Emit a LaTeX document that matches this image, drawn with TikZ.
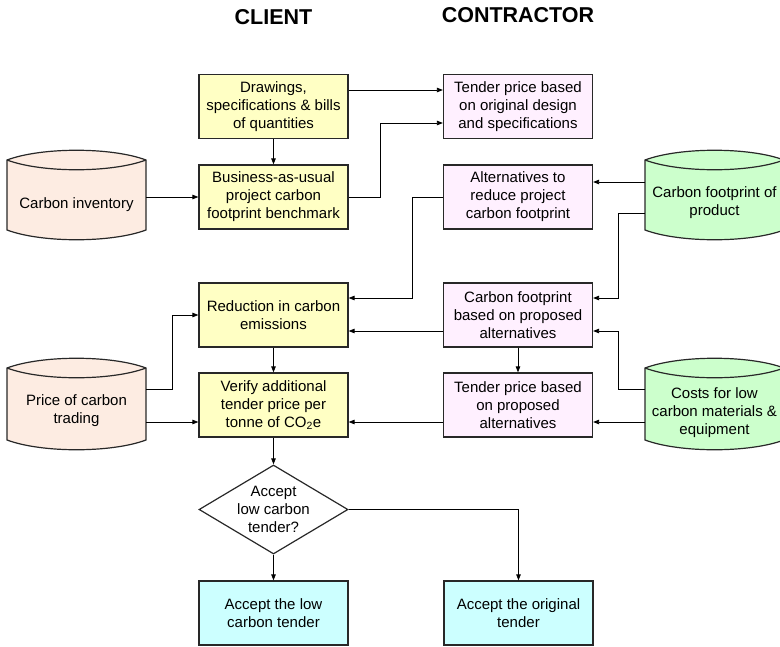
\documentclass[tikz,border=0pt]{standalone}
\usepackage{fontspec}
\setmainfont{Liberation Sans}
\usetikzlibrary{shapes.geometric,arrows.meta,calc}
\definecolor{yfill}{RGB}{255,255,196}
\definecolor{pfill}{RGB}{255,240,255}
\definecolor{rfill}{RGB}{253,236,226}
\definecolor{gfill}{RGB}{204,255,204}
\definecolor{cfill}{RGB}{204,255,255}
\definecolor{edge}{RGB}{40,40,40}
\newcommand\cylshape[5]{%
 \pgfmathsetmacro\cylXa{#1+0.25*(#2-#1)}%
 \pgfmathsetmacro\cylXb{#2-0.25*(#2-#1)}%
 \pgfmathsetmacro\cylYa{#3-13}%
 \pgfmathsetmacro\cylYb{#3+13}%
 \pgfmathsetmacro\cylYc{#4+13}%
 \filldraw[cylborder, fill=#5] (#1,#3) .. controls (\cylXa,\cylYa) and (\cylXb,\cylYa) .. (#2,#3) -- (#2,#4) .. controls (\cylXb,\cylYc) and (\cylXa,\cylYc) .. (#1,#4) -- cycle;
 \draw[cylborder] (#1,#3) .. controls (\cylXa,\cylYb) and (\cylXb,\cylYb) .. (#2,#3);
}
\begin{document}
\begin{tikzpicture}[x=1pt,y=-1pt,
  font=\fontsize{15}{18}\selectfont,
  box/.style={draw=edge, line width=1.2pt, rectangle, minimum width=149pt, minimum height=64pt, align=center, inner sep=2pt},
  ybox/.style={box, fill=yfill},
  pbox/.style={box, fill=pfill},
  cbox/.style={box, fill=cfill},
  cyltext/.style={minimum width=139pt, minimum height=70pt, align=center, inner sep=0pt},
  cylborder/.style={draw=edge, line width=1.2pt},
  arr/.style={line width=0.8pt, -{Triangle[length=6pt,width=4.5pt]}},
  title/.style={font=\fontsize{21.5}{24}\selectfont\bfseries}
]
\useasboundingbox (0,0) rectangle (780,646);

\node[title] (tclient) at (273.5,17) {CLIENT};
\node[title] (tcontr) at (518,15) {CONTRACTOR};

% cylinders
\cylshape{7}{146}{160}{230}{rfill}
\node[cyltext] (inv) at (76.5,205) {Carbon inventory};
\cylshape{645}{784}{160}{230}{gfill}
\node[cyltext] (prod) at (714.5,203) {Carbon footprint of\\product};
\cylshape{7}{146}{368}{440}{rfill}
\node[cyltext] (price) at (76.5,411) {Price of carbon\\trading};
\cylshape{645}{784}{368}{440}{gfill}
\node[cyltext] (costs) at (714.5,413) {Costs for low\\carbon materials \&\\equipment};

% client boxes
\node[ybox] (drw) at (273.5,106.5) {Drawings,\\specifications \& bills\\of quantities};
\node[ybox] (bau) at (273.5,197) {Business-as-usual\\project carbon\\footprint benchmark};
\node[ybox] (red) at (273.5,315) {Reduction in carbon\\emissions};
\node[ybox] (ver) at (273.5,405) {Verify additional\\tender price per\\tonne of CO\textsubscript{2}e};

% contractor boxes
\node[pbox] (orig) at (518,106.5) {Tender price based\\on original design\\and specifications};
\node[pbox] (alt) at (518,197) {Alternatives to\\reduce project\\carbon footprint};
\node[pbox] (cfb) at (518,315) {Carbon footprint\\based on proposed\\alternatives};
\node[pbox] (tpp) at (518,405) {Tender price based\\on proposed\\alternatives};

% decision
\node[diamond, draw=edge, line width=1.2pt, fill=white, minimum width=149pt, minimum height=89pt, inner sep=0pt, aspect=1.67] (dec) at (273.5,509.5) {};
\node[align=center, inner sep=0pt] (dect) at (dec.center) {Accept\\low carbon\\tender?};

\node[cbox] (low) at (273.5,613) {Accept the low\\carbon tender};
\node[cbox] (acco) at (518.5,613) {Accept the original\\tender};

% connectors
\draw[arr] ($(drw.east)+(0,-16.5)$) -- ($(orig.west)+(0,-16.5)$);
\draw[arr] (bau.east) -- ++(32,0) |- ($(orig.west)+(0,16.5)$);
\draw[arr] (drw.south) -- (bau.north);
\draw[arr] (inv.east |- bau.west) -- (bau.west);
\draw[arr] (prod.west |- 0,182) -- ($(alt.east)+(0,-15)$);
\draw[arr] ($(prod.west)+(0,10)$) -- ++(-26,0) |- ($(cfb.east)+(0,-17)$);
\draw[arr] (alt.west) -- ++(-31,0) |- ($(red.east)+(0,-17)$);
\draw[arr] ($(cfb.west)+(0,16)$) -- ($(red.east)+(0,16)$);
\draw[arr] ($(costs.west)+(0,-24)$) -- ++(-26,0) |- ($(cfb.east)+(0,16)$);
\draw[arr] ($(costs.west)+(0,9)$) -- ($(tpp.east)+(0,17)$);
\draw[arr] (cfb.south) -- (tpp.north);
\draw[arr] ($(tpp.west)+(0,17)$) -- ($(ver.east)+(0,17)$);
\draw[arr] ($(price.east)+(0,-22)$) -- ++(26,0) |- (red.west);
\draw[arr] ($(price.east)+(0,11)$) -- ($(ver.west)+(0,17)$);
\draw[arr] (red.south) -- (ver.north);
\draw[arr] (ver.south) -- (dec.north);
\draw[arr] (dec.south) -- (low.north);
\draw[arr] (dec.east) -| (acco.north);
\end{tikzpicture}
\end{document}
